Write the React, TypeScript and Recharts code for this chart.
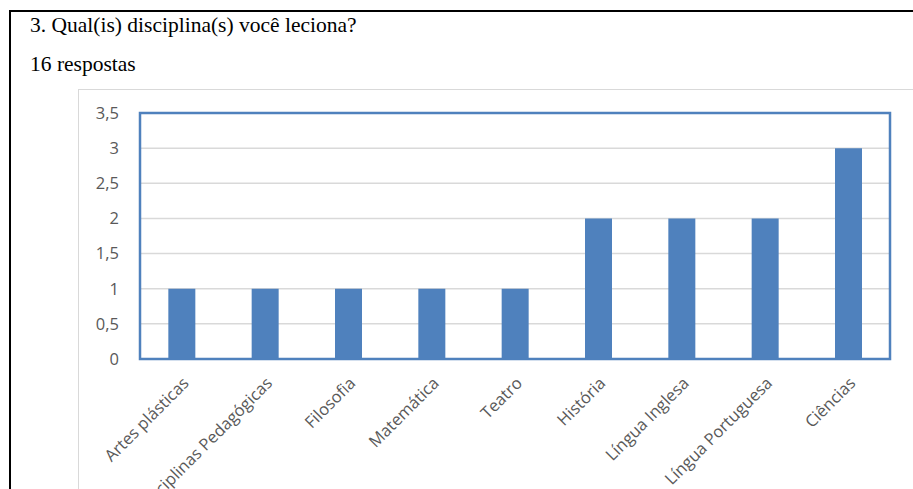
import React from "react";
import {
  BarChart,
  Bar,
  XAxis,
  YAxis,
  CartesianGrid,
  ReferenceArea,
} from "recharts";

// Disciplinas lecionadas e número de respostas
const disciplinas: string[] = [
  "Artes plásticas",
  "Disciplinas Pedagógicas",
  "Filosofia",
  "Matemática",
  "Teatro",
  "História",
  "Língua Inglesa",
  "Língua Portuguesa",
  "Ciências",
];
const respostas: number[] = [1, 1, 1, 1, 1, 2, 2, 2, 3];
const yTicks: number[] = [0, 0.5, 1, 1.5, 2, 2.5, 3, 3.5];

const data = disciplinas.map((nome, i) => ({ nome, valor: respostas[i] }));

const AXIS_FONT = "'Open Sans', 'Noto Sans', sans-serif";
const SERIF = "'Liberation Serif', 'Times New Roman', serif";
const LABEL_COLOR = "#595959";
const BAR_COLOR = "#4f81bd";

const formatTick = (v: number) => String(v).replace(".", ",");

const headingStyle: React.CSSProperties = {
  position: "absolute",
  left: 30,
  fontFamily: SERIF,
  fontSize: 21.5,
  lineHeight: 1,
  color: "#000",
  whiteSpace: "nowrap",
};

export default function App() {
  return (
    <div
      style={{
        position: "fixed",
        left: 0,
        top: 0,
        width: 913,
        height: 489,
        background: "#ffffff",
        overflow: "hidden",
      }}
    >
      {/* moldura do formulário */}
      <div
        style={{
          position: "absolute",
          left: 9,
          top: 10,
          width: 1000,
          height: 600,
          borderLeft: "2px solid #000",
          borderTop: "2px solid #000",
        }}
      />
      <div style={{ ...headingStyle, top: 15 }}>
        3. Qual(is) disciplina(s) você leciona?
      </div>
      <div style={{ ...headingStyle, top: 54 }}>16 respostas</div>
      {/* área do gráfico */}
      <div
        style={{
          position: "absolute",
          left: 78,
          top: 89,
          width: 1000,
          height: 600,
          border: "1px solid #d9d9d9",
        }}
      />
      <div style={{ position: "absolute", left: 0, top: 0 }}>
        <BarChart
          width={913}
          height={489}
          data={data}
          margin={{ top: 113, right: 23, bottom: 0, left: 90 }}
          barCategoryGap="34%"
        >
          <CartesianGrid vertical={false} stroke="#d9d9d9" strokeWidth={1.5} />
          <XAxis
            dataKey="nome"
            interval={0}
            height={130}
            tickLine={false}
            axisLine={false}
            angle={-45}
            textAnchor="end"
            tickMargin={11}
            tick={{ fill: LABEL_COLOR, fontSize: 16.5, fontFamily: AXIS_FONT }}
          />
          <YAxis
            width={50}
            domain={[0, 3.5]}
            ticks={yTicks}
            tickFormatter={formatTick}
            tickLine={false}
            axisLine={false}
            tickSize={0}
            tickMargin={21}
            tick={{ fill: LABEL_COLOR, fontSize: 16.5, fontFamily: AXIS_FONT }}
          />
          <Bar dataKey="valor" fill={BAR_COLOR} isAnimationActive={false} />
          <ReferenceArea
            y1={0}
            y2={3.5}
            fill="none"
            stroke={BAR_COLOR}
            strokeWidth={2.5}
            ifOverflow="visible"
          />
        </BarChart>
      </div>
    </div>
  );
}
